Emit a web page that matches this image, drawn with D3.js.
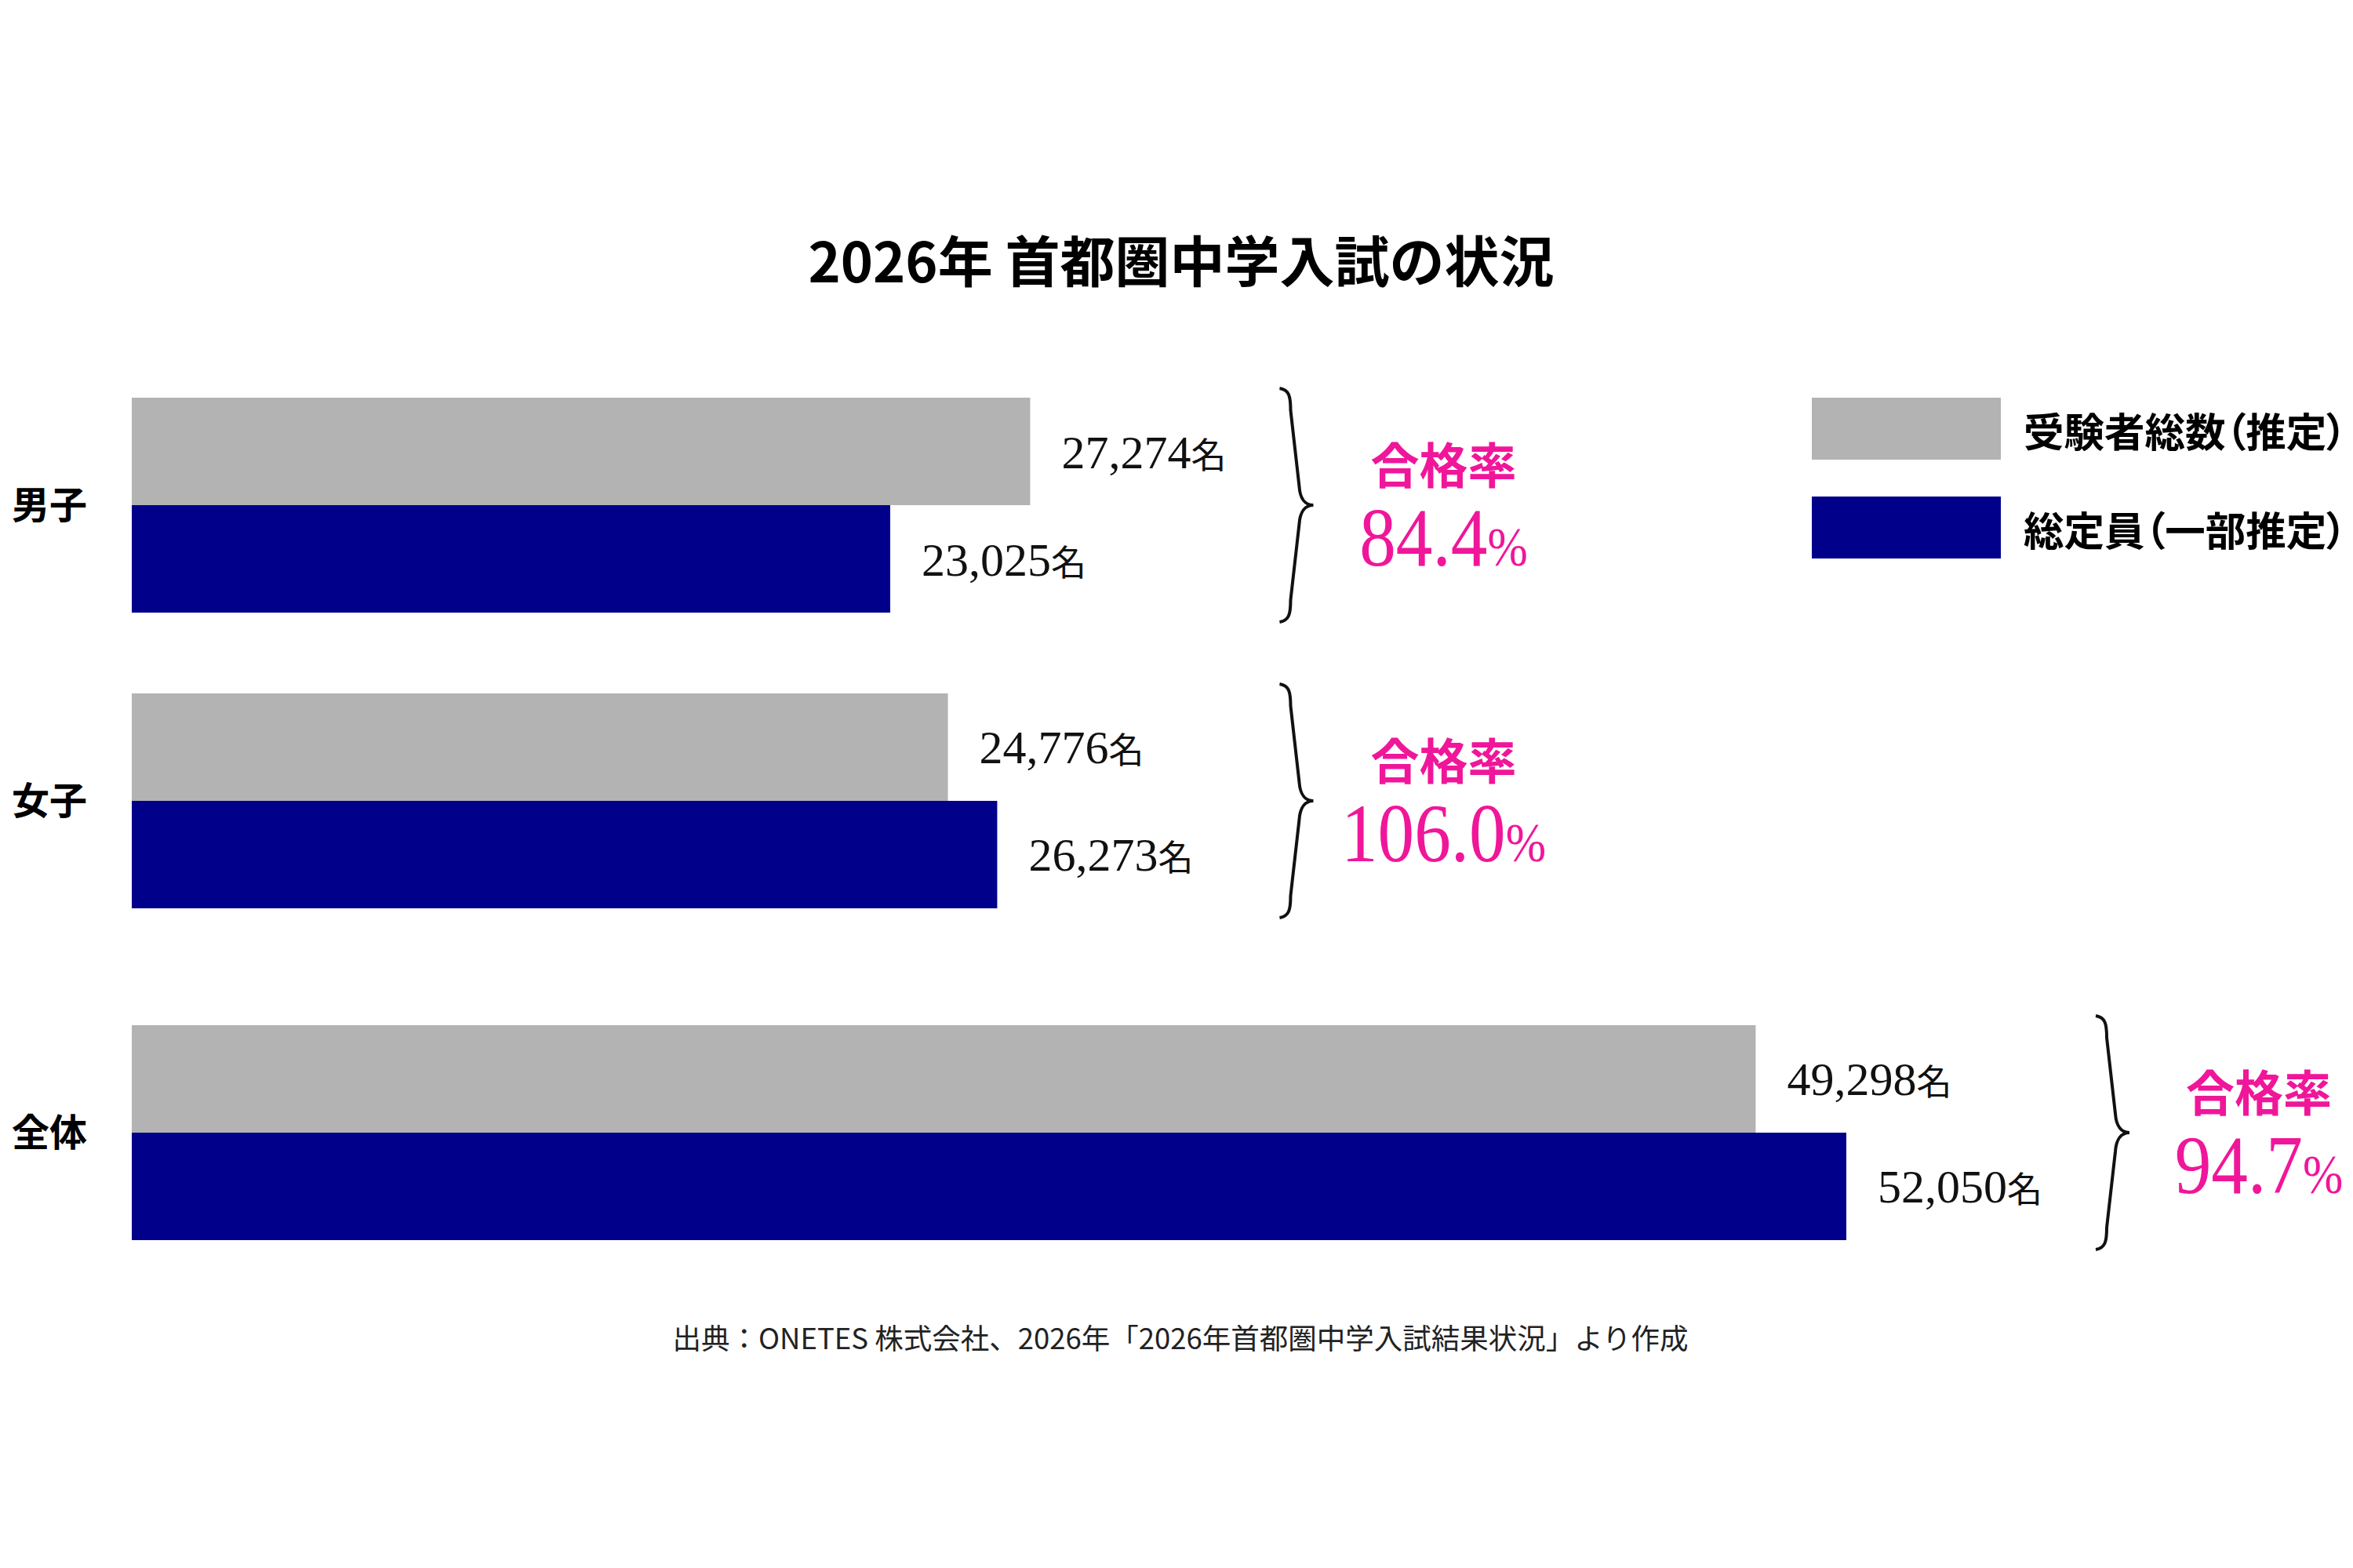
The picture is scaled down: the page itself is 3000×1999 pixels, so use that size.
<!DOCTYPE html>
<html>
<head>
<meta charset="utf-8">
<script src="https://cdn.jsdelivr.net/npm/d3@7"></script>
<style>
  body { margin: 0; background: #fff; }
</style>
</head>
<body>
<div id="chart"></div>
<script>
// data
var categories = ["男子", "女子", "全体"];
var seriesNames = ["受験者総数（推定）", "総定員（一部推定）"];
var applicants = [27274, 24776, 49298];
var capacity = [23025, 26273, 52050];
var passRates = ["84.4", "106.0", "94.7"];
var braceSections = [[0, 1], [2]];
var titleText = "2026年 首都圏中学入試の状況";
var sourceText = "出典：ONETES 株式会社、2026年「2026年首都圏中学入試結果状況」より作成";

var colors = ["#b3b3b3", "#00008b"];
var pink = "#f0169a";
var jpFont = "'Noto Sans CJK JP', 'Noto Sans', sans-serif";
var serifFont = "'Liberation Serif', 'DejaVu Serif', serif";

var width = 3000;
var height = 1999;

var svg = d3.select("#chart")
    .append("svg")
    .attr("width", width)
    .attr("height", height);

// title
svg.append("text")
    .attr("x", 1506)
    .attr("y", 360)
    .attr("text-anchor", "middle")
    .attr("font-family", jpFont)
    .attr("font-weight", 700)
    .attr("font-size", 70)
    .text(titleText);

// scales
var x = d3.scaleLinear()
    .domain([0, d3.max(applicants.concat(capacity))])
    .range([168, 2354]);

var y = d3.scaleBand()
    .domain(categories)
    .range([507, 1535])
    .paddingInner(0.2732);

// extra space before the total row
var totalGap = 46;
function groupTop(i) {
  return y(categories[i]) + (i === categories.length - 1 ? totalGap : 0);
}

var ySub = d3.scaleBand()
    .domain([0, 1])
    .range([0, y.bandwidth()]);

var rows = categories.map(function(c, i) {
  return { cat: c, i: i, vals: [applicants[i], capacity[i]] };
});

var groups = svg.selectAll("g.row")
    .data(rows)
    .enter()
    .append("g")
    .attr("class", "row")
    .attr("transform", function(d) { return "translate(0," + groupTop(d.i) + ")"; });

// category labels
groups.append("text")
    .attr("x", 15)
    .attr("y", y.bandwidth() / 2 - 4)
    .attr("dominant-baseline", "central")
    .attr("font-family", jpFont)
    .attr("font-weight", 700)
    .attr("font-size", 48)
    .text(function(d) { return d.cat; });

// bars
groups.selectAll("rect")
    .data(function(d) { return d.vals; })
    .enter()
    .append("rect")
    .attr("x", x(0))
    .attr("y", function(v, j) { return ySub(j); })
    .attr("width", function(v) { return x(v) - x(0); })
    .attr("height", ySub.bandwidth())
    .attr("fill", function(v, j) { return colors[j]; });

// value labels
var fmt = d3.format(",");
var labelEnds = categories.map(function() { return 0; });

groups.each(function(d) {
  var g = d3.select(this);
  d.vals.forEach(function(v, j) {
    var t = g.append("text")
        .attr("x", x(v) + 40)
        .attr("y", ySub(j) + ySub.bandwidth() / 2 + 21)
        .attr("font-family", serifFont)
        .attr("font-size", 60)
        .attr("fill", "#111");
    t.append("tspan").text(fmt(v));
    t.append("tspan")
        .attr("font-family", jpFont)
        .attr("font-size", 45)
        .text("名");
    var bb = t.node().getBBox();
    labelEnds[d.i] = Math.max(labelEnds[d.i], bb.x + bb.width);
  });
});

// braces + pass rates
function bracePath(bx, top, bot) {
  var mid = (top + bot) / 2;
  var p = d3.path();
  p.moveTo(bx, top);
  p.bezierCurveTo(bx + 12, top + 2, bx + 14, top + 10, bx + 14, top + 28);
  p.lineTo(bx + 25, mid - 24);
  p.bezierCurveTo(bx + 26, mid - 8, bx + 33, mid, bx + 43, mid);
  p.bezierCurveTo(bx + 33, mid, bx + 26, mid + 8, bx + 25, mid + 24);
  p.lineTo(bx + 14, bot - 28);
  p.bezierCurveTo(bx + 14, bot - 10, bx + 12, bot - 2, bx, bot);
  return p.toString();
}

braceSections.forEach(function(section) {
  var bx = d3.max(section, function(i) { return labelEnds[i]; }) + 68;
  section.forEach(function(i) {
    var top = groupTop(i) - 12;
    var bot = groupTop(i) + y.bandwidth() + 12;
    var mid = (top + bot) / 2;

    svg.append("path")
        .attr("d", bracePath(bx, top, bot))
        .attr("fill", "none")
        .attr("stroke", "#111")
        .attr("stroke-width", 4);

    // keep the rate text inside the right edge
    var cx = Math.min(bx + 43 + 166, 2880);

    svg.append("text")
        .attr("x", cx)
        .attr("y", mid - 27)
        .attr("text-anchor", "middle")
        .attr("font-family", jpFont)
        .attr("font-weight", 700)
        .attr("font-size", 62)
        .attr("fill", pink)
        .text("合格率");

    var rt = svg.append("text")
        .attr("transform", "translate(" + cx + "," + (mid + 77) + ") scale(0.88,1)")
        .attr("text-anchor", "middle")
        .attr("font-family", serifFont)
        .attr("font-size", 106)
        .attr("fill", pink);
    rt.append("tspan").text(passRates[i]);
    rt.append("tspan").attr("font-size", 70).text("%");
  });
});

// legend
var legend = svg.selectAll("g.legend")
    .data(seriesNames)
    .enter()
    .append("g")
    .attr("class", "legend")
    .attr("transform", function(d, j) { return "translate(2310," + (507 + j * 126) + ")"; });

legend.append("rect")
    .attr("width", 241)
    .attr("height", 79)
    .attr("fill", function(d, j) { return colors[j]; });

legend.append("text")
    .attr("x", 270)
    .attr("y", 40)
    .attr("dominant-baseline", "central")
    .attr("font-family", jpFont)
    .attr("font-weight", 700)
    .attr("font-size", 51.5)
    .style("font-feature-settings", "'palt'")
    .text(function(d) { return d; });

// source note
svg.append("text")
    .attr("x", 1505)
    .attr("y", 1720)
    .attr("text-anchor", "middle")
    .attr("font-family", jpFont)
    .attr("font-size", 36.5)
    .attr("fill", "#222")
    .text(sourceText);
</script>
</body>
</html>
